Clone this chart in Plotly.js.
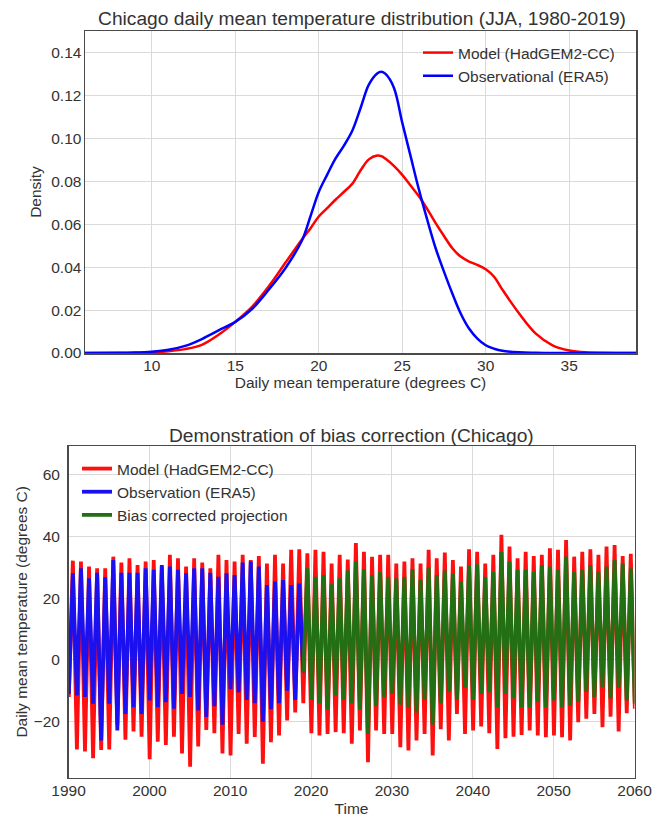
<!DOCTYPE html>
<html>
<head>
<meta charset="utf-8">
<script src="https://cdn.plot.ly/plotly-3.0.1.min.js"></script>
<style>html,body{margin:0;padding:0;background:#fff;}#chart{width:662px;height:817px;}</style>
</head>
<body>
<div id="chart"></div>
<script>
// ---- Top panel: kernel density estimates ----
const kdeTemp = [6, 8, 9, 10, 11, 12, 13, 14, 15, 16, 17, 18, 19, 19.5, 20, 20.5, 21, 21.5, 22, 22.5, 23, 23.5, 23.75, 24, 24.5, 25, 25.5, 26, 26.5, 27, 27.5, 28, 28.5, 29, 29.5, 30, 30.5, 31, 32, 33, 34, 35, 36, 37, 39];
const kdeModel = [0, 0.0000, 0.0001, 0.0003, 0.0008, 0.0018, 0.0038, 0.0085, 0.0145, 0.0215, 0.031, 0.042, 0.053, 0.058, 0.0636, 0.0675, 0.0714, 0.0750, 0.0788, 0.0850, 0.0902, 0.0920, 0.0917, 0.0905, 0.0872, 0.083, 0.078, 0.073, 0.067, 0.0605, 0.0545, 0.0488, 0.0449, 0.0426, 0.041, 0.039, 0.0355, 0.0295, 0.0184, 0.009, 0.0036, 0.0012, 0.0003, 0.0001, 0];
const kdeObs = [0, 0.0001, 0.0002, 0.0006, 0.0015, 0.0033, 0.0065, 0.0105, 0.0145, 0.0205, 0.0295, 0.0395, 0.0525, 0.0636, 0.0750, 0.083, 0.0905, 0.0965, 0.1034, 0.114, 0.1250, 0.1302, 0.1310, 0.1300, 0.1236, 0.1073, 0.0917, 0.0761, 0.062, 0.0488, 0.0379, 0.0277, 0.0184, 0.0114, 0.0067, 0.0036, 0.0020, 0.0010, 0.0003, 0.0001, 0, 0, 0, 0, 0];
const kdeTicks = [10, 15, 20, 25, 30, 35];
const densTicks = [0, 0.02, 0.04, 0.06, 0.08, 0.10, 0.12, 0.14];

// ---- Bottom panel: yearly summer peaks and winter troughs ----
const modelStart = 1990;
const modelPeak = [32.2, 31.9, 30.3, 29.7, 29.7, 33.5, 31.6, 33.0, 30.8, 31.9,
  32.4, 30.3, 34.1, 33.0, 30.3, 33.0, 31.6, 29.7, 34.1, 32.4,
  31.9, 34.1, 32.4, 33.7, 31.3, 34.1, 31.3, 35.7, 35.9, 34.6,
  35.7, 35.1, 31.3, 34.1, 32.6, 37.9, 35.1, 33.5, 34.1, 34.1,
  31.3, 31.9, 33.0, 31.3, 35.7, 33.0, 34.8, 32.4, 30.3, 35.9,
  35.1, 31.3, 34.1, 40.6, 36.8, 33.0, 35.1, 33.7, 34.1, 36.2,
  35.7, 38.9, 33.5, 35.1, 35.9, 34.1, 36.8, 37.3, 33.7, 34.4];
const modelTrough = [-12.0, -29.0, -29.7, -31.9, -29.2, -29.0, -21.0, -25.9, -23.2, -24.9,
  -32.2, -26.5, -27.6, -24.9, -30.3, -34.6, -28.1, -22.7, -23.8, -30.3,
  -31.0, -24.0, -27.2, -25.0, -33.7, -26.7, -24.5, -19.6, -17.0, -14.0,
  -23.8, -24.5, -24.0, -23.4, -23.8, -27.2, -22.9, -33.2, -22.9, -24.0,
  -24.0, -28.3, -29.4, -26.1, -24.0, -31.0, -22.5, -26.1, -17.5, -24.0,
  -22.9, -21.6, -23.8, -28.9, -25.4, -24.9, -24.3, -22.9, -24.5, -25.1,
  -24.5, -25.1, -26.1, -20.2, -19.1, -17.5, -21.8, -18.4, -23.2, -17.3,
  -15.8];
const obsStart = 1990;
const obsPeak = [28.1, 29.7, 26.5, 28.3, 26.8, 32.4, 28.3, 28.3, 28.3, 29.7,
  29.2, 30.8, 30.3, 29.2, 28.1, 29.7, 29.7, 28.3, 27.0, 28.1,
  27.5, 31.6, 31.9, 30.3, 24.3, 25.4, 25.9, 24.3, 24.8];
const obsTrough = [-11.0, -11.5, -12.0, -14.2, -26.1, -14.2, -22.9, -17.5, -15.3, -17.5,
  -13.1, -15.3, -13.7, -15.8, -11.0, -12.0, -16.4, -18.5, -15.0, -21.0,
  -9.5, -10.5, -13.0, -14.0, -20.0, -16.0, -14.0, -10.0, -13.0, -4.0];
const biasStart = 2019;
const biasPeak = [29.7, 27.0, 27.5, 24.5, 26.5, 29.0, 32.0, 29.5, 27.5, 28.5,
  27.0, 26.5, 27.0, 29.5, 26.0, 30.0, 27.5, 29.0, 28.0, 25.5,
  30.5, 31.0, 27.0, 28.6, 35.0, 31.9, 29.2, 29.2, 28.6, 30.8,
  30.3, 29.2, 33.5, 28.6, 29.2, 30.8, 28.6, 30.3, 32.4, 31.3,
  29.7];
const biasTrough = [-4.0, -13.0, -14.0, -16.0, -11.5, -13.0, -14.0, -16.0, -24.0, -15.0,
  -12.0, -11.0, -14.5, -15.5, -17.0, -13.0, -21.0, -14.0, -10.5, -13.0,
  -9.0, -13.0, -11.0, -10.5, -15.3, -11.0, -12.5, -15.3, -15.3, -13.7,
  -15.3, -13.1, -15.3, -14.8, -13.7, -10.4, -12.0, -8.8, -12.5, -9.0,
  -13.1, -14.2];
const timeTicks = [1990, 2000, 2010, 2020, 2030, 2040, 2050, 2060];
const tempTicks = [-20, 0, 20, 40, 60];

// winter trough in mid-January, summer peak in mid-July
function seasonal(start, troughs, peaks) {
  const x = [], y = [];
  for (let i = 0; i < troughs.length; i++) {
    x.push(start + i + 0.04); y.push(troughs[i]);
    if (i < peaks.length) { x.push(start + i + 0.54); y.push(peaks[i]); }
  }
  return {x, y};
}
const model = seasonal(modelStart, modelTrough, modelPeak);
const obs = seasonal(obsStart, obsTrough, obsPeak);
const bias = seasonal(biasStart, biasTrough, biasPeak);

const W = 662, H = 817;
const txt = '#333333';
const gridc = '#dadada';
const framec = '#4a4a4a';
const FONT = 'Liberation Sans, Arial, sans-serif';

const traces = [
  {x: kdeTemp, y: kdeModel, type: 'scatter', mode: 'lines', name: 'Model (HadGEM2-CC)',
   line: {color: '#ff0000', width: 2.5, shape: 'spline', smoothing: 1}, xaxis: 'x', yaxis: 'y', legend: 'legend'},
  {x: kdeTemp, y: kdeObs, type: 'scatter', mode: 'lines', name: 'Observational (ERA5)',
   line: {color: '#0000ff', width: 2.5, shape: 'spline', smoothing: 1}, xaxis: 'x', yaxis: 'y', legend: 'legend'},
  {x: model.x, y: model.y, type: 'scatter', mode: 'lines', name: 'Model (HadGEM2-CC)',
   line: {color: '#ff1010', width: 3.8}, xaxis: 'x2', yaxis: 'y2', legend: 'legend2'},
  {x: obs.x, y: obs.y, type: 'scatter', mode: 'lines', name: 'Observation (ERA5)',
   line: {color: '#1a10f0', width: 3.8}, xaxis: 'x2', yaxis: 'y2', legend: 'legend2'},
  {x: bias.x, y: bias.y, type: 'scatter', mode: 'lines', name: 'Bias corrected projection',
   line: {color: '#236f14', width: 3.8}, xaxis: 'x2', yaxis: 'y2', legend: 'legend2'}
];

const axBase = {
  showgrid: true, gridcolor: gridc, gridwidth: 1, zeroline: false,
  showline: true, mirror: true, linecolor: framec, linewidth: 1.5,
  ticks: '', tickfont: {size: 15.5, color: txt, family: FONT}, fixedrange: true
};

const layout = {
  width: W, height: H,
  margin: {l: 0, r: 0, t: 0, b: 0},
  paper_bgcolor: '#ffffff', plot_bgcolor: '#ffffff',
  font: {family: FONT, color: txt, size: 15.5},
  showlegend: true,
  title: {text: 'Chicago daily mean temperature distribution (JJA, 1980-2019)',
          x: 362 / W, xanchor: 'center', y: 1 - 18 / H, yanchor: 'middle',
          font: {size: 19.2, color: txt, family: FONT}},
  xaxis: Object.assign({}, axBase, {
    domain: [85 / W, 636 / W], anchor: 'y', range: [6, 39], tickvals: kdeTicks,
    ticklabelstandoff: -2,
    title: {text: 'Daily mean temperature (degrees C)', font: {size: 15.5, color: txt}, standoff: 2}
  }),
  yaxis: Object.assign({}, axBase, {
    domain: [1 - 353 / H, 1 - 31 / H], anchor: 'x', range: [0, 0.15], tickvals: densTicks,
    tickformat: '.2f', ticklabelstandoff: -1,
    title: {text: 'Density', font: {size: 15.5, color: txt}, standoff: 6}
  }),
  xaxis2: Object.assign({}, axBase, {
    domain: [68.5 / W, 634.5 / W], anchor: 'y2', range: [1990, 2060], tickvals: timeTicks,
    ticklabelstandoff: -2,
    title: {text: 'Time', font: {size: 15.5, color: txt}, standoff: 10}
  }),
  yaxis2: Object.assign({}, axBase, {
    domain: [1 - 777.7 / H, 1 - 446 / H], anchor: 'x2', range: [-38.2, 69.4], tickvals: tempTicks,
    ticklabelstandoff: 4,
    title: {text: 'Daily mean temperature (degrees C)', font: {size: 15.5, color: txt}, standoff: 2}
  }),
  legend: {x: 418 / W, y: 1 - 36 / H, xanchor: 'left', yanchor: 'top',
           bgcolor: 'rgba(0,0,0,0)', borderwidth: 0, font: {size: 15.5, color: txt, family: FONT}},
  legend2: {x: 77 / W, y: 1 - 452 / H, xanchor: 'left', yanchor: 'top',
            bgcolor: 'rgba(0,0,0,0)', borderwidth: 0, font: {size: 15.5, color: txt, family: FONT}},
  annotations: [
    {text: 'Demonstration of bias correction (Chicago)', xref: 'paper', yref: 'paper',
     x: 351.5 / W, y: 1 - 435 / H, xanchor: 'center', yanchor: 'middle', showarrow: false,
     font: {size: 19.2, color: txt, family: FONT}}
  ]
};

Plotly.newPlot('chart', traces, layout, {staticPlot: true, displayModeBar: false});
</script>
</body>
</html>
